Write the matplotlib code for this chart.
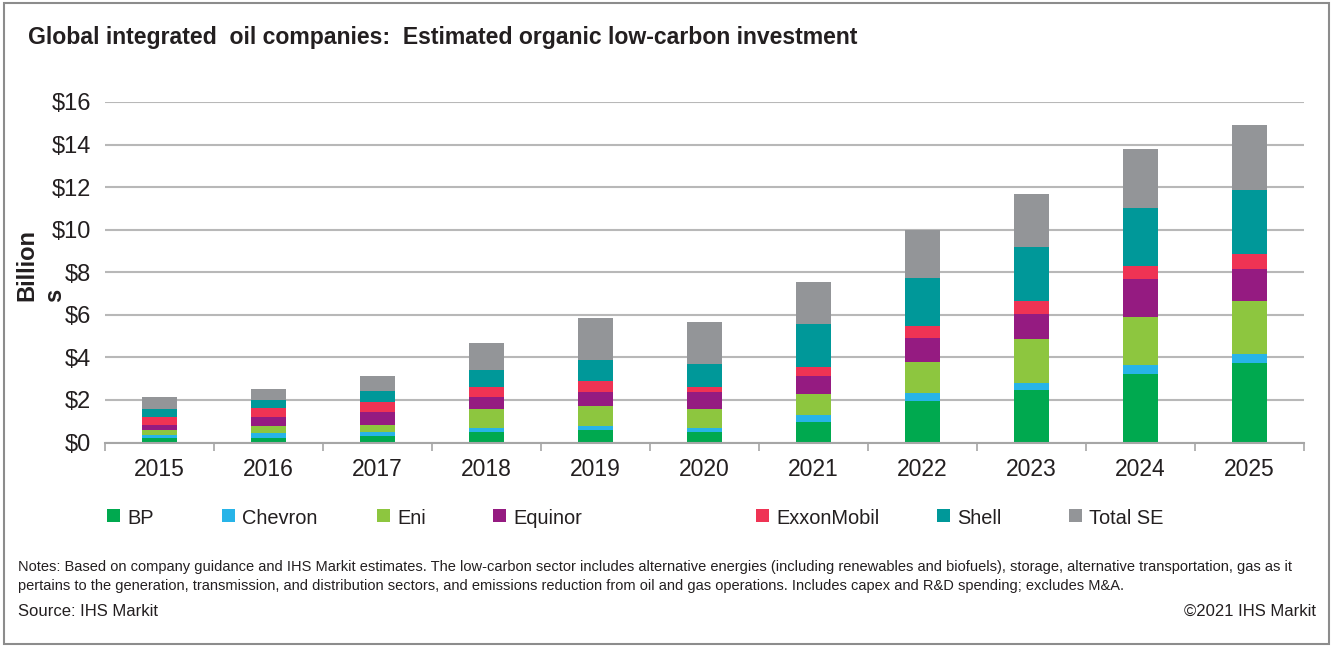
import matplotlib
matplotlib.use("Agg")
import matplotlib.pyplot as plt
from matplotlib.patches import Rectangle
import numpy as np

years = ["2015", "2016", "2017", "2018", "2019", "2020", "2021", "2022", "2023", "2024", "2025"]
bp         = [0.20, 0.20, 0.30, 0.49, 0.59, 0.49, 0.97, 1.95, 2.48, 3.22, 3.74]
chevron    = [0.14, 0.24, 0.19, 0.21, 0.19, 0.21, 0.33, 0.38, 0.33, 0.42, 0.42]
eni        = [0.24, 0.33, 0.33, 0.87, 0.94, 0.87, 0.98, 1.45, 2.07, 2.26, 2.49]
equinor    = [0.23, 0.42, 0.61, 0.57, 0.65, 0.80, 0.86, 1.15, 1.18, 1.78, 1.50]
exxonmobil = [0.38, 0.42, 0.47, 0.47, 0.52, 0.24, 0.41, 0.55, 0.59, 0.62, 0.72]
shell      = [0.38, 0.38, 0.51, 0.80, 0.99, 1.08, 2.02, 2.26, 2.55, 2.72, 3.00]
total_se   = [0.56, 0.52, 0.72, 1.27, 1.97, 1.97, 1.98, 2.26, 2.48, 2.78, 3.06]

series_names = ["BP", "Chevron", "Eni", "Equinor", "ExxonMobil", "Shell", "Total SE"]
series_vals = [bp, chevron, eni, equinor, exxonmobil, shell, total_se]
colors = ["#00A94F", "#27B4E8", "#8DC63F", "#951B81", "#EF3354", "#009899", "#939598"]

yticks = [0, 2, 4, 6, 8, 10, 12, 14, 16]
ytick_labels = ["$0", "$2", "$4", "$6", "$8", "$10", "$12", "$14", "$16"]

title = "Global integrated  oil companies:  Estimated organic low-carbon investment"
notes1 = ("Notes: Based on company guidance and IHS Markit estimates. The low-carbon sector includes alternative energies "
          "(including renewables and biofuels), storage, alternative transportation, gas as it")
notes2 = ("pertains to the generation, transmission, and distribution sectors, and emissions reduction from oil and gas "
          "operations. Includes capex and R&D spending; excludes M&A.")
source = "Source: IHS Markit"
copyright_txt = "\u00a92021 IHS Markit"

FONT = ["Liberation Sans", "DejaVu Sans"]
TXT = "#231F20"
plt.rcParams['font.family'] = FONT

W, H = 1334, 646
fig = plt.figure(figsize=(W / 100, H / 100), dpi=100)
fig.patch.set_facecolor("white")

ax = fig.add_axes([104.7 / W, 1 - 442.5 / H, 1199 / W, 340.5 / H])

x = np.arange(len(years))
bottom = np.zeros(len(years))
for name, vals, c in zip(series_names, series_vals, colors):
    ax.bar(x, vals, width=0.32, bottom=bottom, color=c, label=name, zorder=3, linewidth=0)
    bottom += np.array(vals)

ax.set_xlim(-0.5, len(years) - 0.5)
ax.set_ylim(0, 16)
ax.set_yticks(yticks)
ax.set_yticklabels(ytick_labels)
ax.set_xticks(x)
ax.set_xticklabels(years)
ax.set_xticks(np.arange(-0.5, len(years), 1.0), minor=True)
ax.tick_params(axis="x", which="major", length=0, pad=11, labelsize=16.5, labelcolor=TXT)
ax.tick_params(axis="x", which="minor", length=5.5, width=1.2, color="#a6a6a6", direction="out")
ax.tick_params(axis="y", length=0, pad=10, labelsize=17, labelcolor=TXT)

ax.grid(axis="y", color="#b8b8b8", linewidth=1.5, zorder=0)
ax.set_axisbelow(True)
for s in ["top", "right", "left"]:
    ax.spines[s].set_visible(False)
ax.spines["bottom"].set_color("#a6a6a6")
ax.spines["bottom"].set_linewidth(1.5)
ax.spines["bottom"].set_zorder(4)

# y label "Billion s" (wrapped as in original)
fig.text(27 / W, 1 - 265 / H, "Billion", rotation=90, ha="center", va="center",
         fontsize=17, fontweight="bold", color=TXT)
fig.text(55 / W, 1 - 302 / H, "s", rotation=90, ha="center", va="bottom",
         fontsize=17, fontweight="bold", color=TXT)

# title
fig.text(28 / W, 1 - 44 / H, title, ha="left", va="baseline", fontsize=16.6,
         fontweight="bold", color=TXT)

# legend (manually placed entries)
leg_x = [107, 222, 377, 493, 756, 937, 1069]
leg_base = 524
sq = 13
for lx, name, c in zip(leg_x, series_names, colors):
    fig.add_artist(Rectangle((lx / W, 1 - 522 / H), sq / W, sq / H,
                             transform=fig.transFigure, facecolor=c, edgecolor="none"))
    fig.text((lx + sq + 7) / W, 1 - leg_base / H, name, ha="left", va="baseline",
             fontsize=14.4, color=TXT)

# notes
fig.text(18 / W, 1 - 567 / H, notes1, ha="left", va="center", fontsize=10.5, color=TXT)
fig.text(18 / W, 1 - 586 / H, notes2, ha="left", va="center", fontsize=10.5, color=TXT)
fig.text(18 / W, 1 - 611 / H, source, ha="left", va="center", fontsize=12, color=TXT)
fig.text(1316 / W, 1 - 611 / H, copyright_txt, ha="right", va="center", fontsize=12, color=TXT)

# border
fig.add_artist(Rectangle((4 / W, 2 / H), 1325 / W, 641 / H, transform=fig.transFigure,
                         facecolor="none", edgecolor="#8c8c8c", linewidth=1.5))

fig.savefig("out.png", dpi=100, facecolor="white")
